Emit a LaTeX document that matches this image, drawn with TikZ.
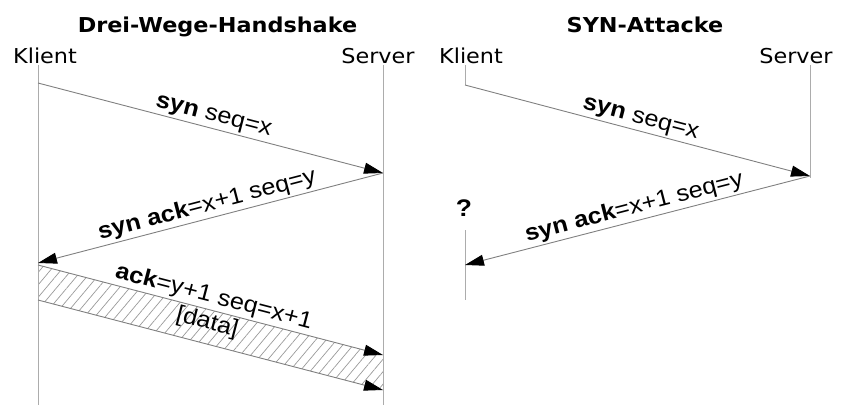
\documentclass[tikz,border=0pt]{standalone}
\usepackage{fontspec}
\usetikzlibrary{arrows.meta,patterns.meta}
\newfontfamily\headfont[FakeStretch=1.09]{DejaVu Sans}
\newfontfamily\msgfont[FakeStretch=1.1]{Liberation Sans}
\tikzset{
  lifeline/.style={draw=gray!65, line width=0.8pt},
  msg/.style={draw=gray, line width=0.9pt, -{Triangle[length=19pt,width=11pt,color=black]}},
  msglabel/.style={font=\msgfont\fontsize{23}{27}\selectfont, sloped, inner sep=2pt},
  head/.style={font=\headfont\fontsize{20.5}{24}\selectfont, anchor=base},
  heading/.style={font=\headfont\bfseries\fontsize{20.5}{24}\selectfont, anchor=base},
  hatch/.style={pattern={Lines[angle=50,distance=8pt,line width=0.7pt]}, pattern color=gray!80},
}
\begin{document}
\begin{tikzpicture}[x=1pt,y=-1pt]
\useasboundingbox (0,0) rectangle (848,405);

% ---------- three-way handshake ----------
\node[heading] (t1) at (217.5,32) {Drei-Wege-Handshake};
\node[head] (k1name) at (45,63) {Klient};
\node[head] (s1name) at (378,63) {Server};

\coordinate (ktop) at (38,65);
\coordinate (kbot) at (38,405);
\coordinate (stop) at (383,65);
\coordinate (sbot) at (383,405);

\coordinate (a1) at (38,83);
\coordinate (b1) at (383,173);
\coordinate (a2) at (38,263);
\coordinate (a3) at (38,265);
\coordinate (b3) at (383,355);
\coordinate (a4) at (38,300);
\coordinate (b4) at (383,390);

% data band
\fill[hatch] (a3) -- (b3) -- (b4) -- (a4) -- cycle;

\draw[lifeline] (ktop) -- (kbot);
\draw[lifeline] (stop) -- (sbot);

\draw[msg] (a1) -- node[msglabel,above] {\textbf{syn} seq=x} (b1);
\draw[msg] (b1) -- node[msglabel,above] {\textbf{syn ack}=x+1 seq=y} (a2);
\draw[msg] (a3) -- node[msglabel,above] {\textbf{ack}=y+1 seq=x+1}
                   node[msglabel,below] {[data]} (b3);
\draw[msg] (a4) -- (b4);

% ---------- SYN attack ----------
\node[heading] (t2) at (645,32) {SYN-Attacke};
\node[head] (k2name) at (471,63) {Klient};
\node[head] (s2name) at (796,63) {Server};

\coordinate (ktop2) at (465,65);
\coordinate (c1) at (465,85);
\coordinate (kmid2) at (465,230);
\coordinate (kbot2) at (465,300);
\coordinate (stop2) at (810,65);
\coordinate (d1) at (810,176);
\coordinate (sbot2) at (810,178);
\coordinate (c2) at (465,265);

\draw[lifeline] (ktop2) -- (c1);
\draw[lifeline] (kmid2) -- (kbot2);
\draw[lifeline] (stop2) -- (sbot2);

\draw[msg] (c1) -- node[msglabel,above] {\textbf{syn} seq=x} (d1);
\draw[msg] (d1) -- node[msglabel,above] {\textbf{syn ack}=x+1 seq=y} (c2);

\node[font=\msgfont\bfseries\fontsize{24}{28}\selectfont] (q) at (464,208) {?};
\end{tikzpicture}
\end{document}
